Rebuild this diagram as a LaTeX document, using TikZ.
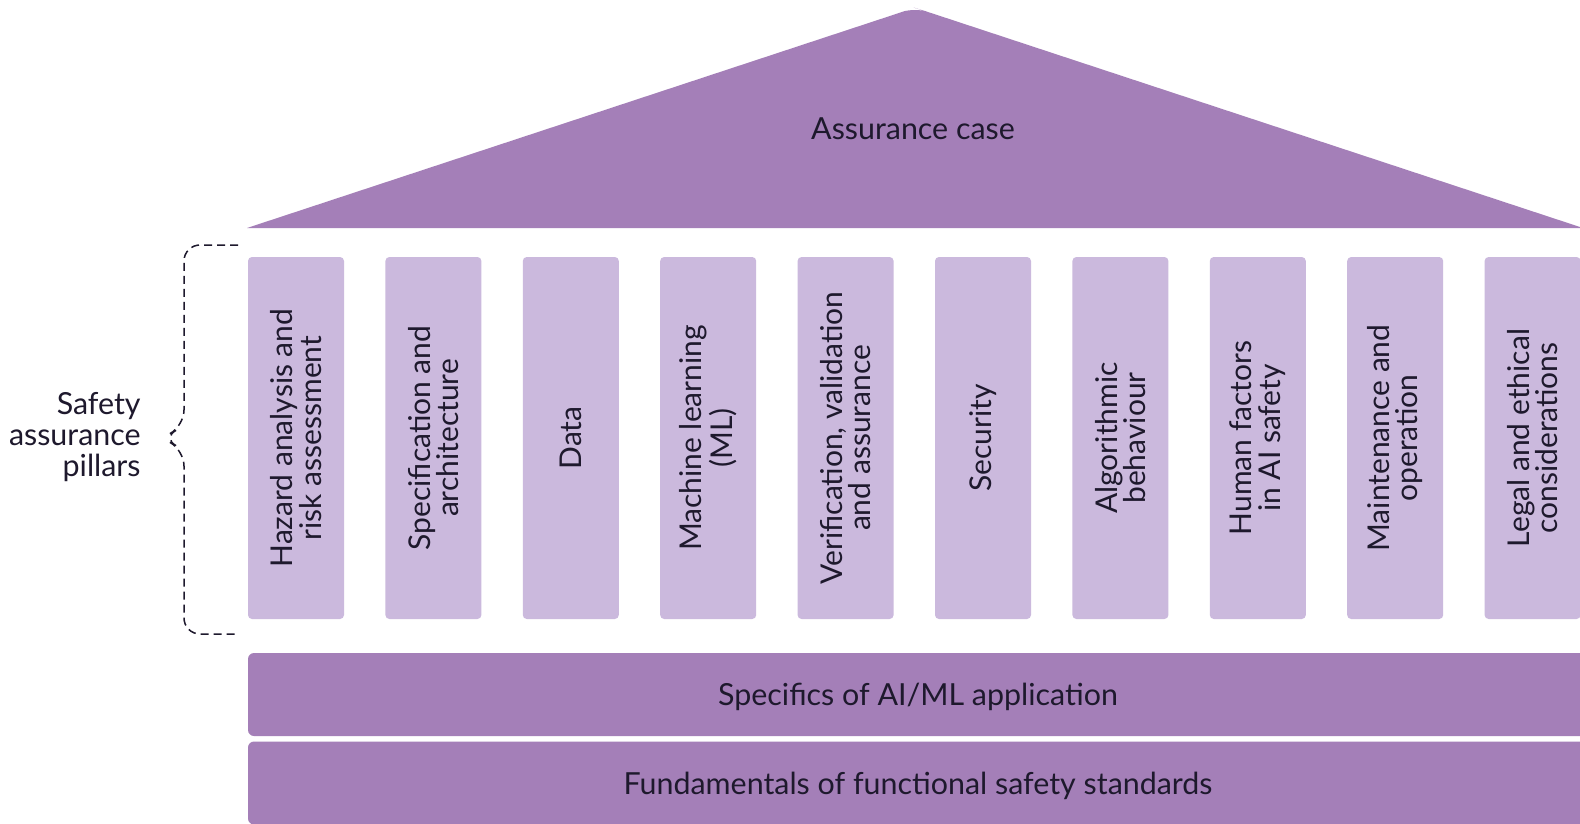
\documentclass[tikz,border=0pt]{standalone}
\usepackage{fontspec}
\setmainfont{Lato}
\usetikzlibrary{positioning}
\definecolor{roofpurple}{RGB}{164,127,184}
\definecolor{pillarpurple}{RGB}{203,185,221}
\definecolor{inkdark}{RGB}{30,25,45}
\begin{document}
\begin{tikzpicture}[x=0.5pt, y=-0.5pt,
    every node/.style={text=inkdark, font=\fontsize{15.2}{15.5}\selectfont},
    pillar/.style={fill=pillarpurple, rounded corners=2pt, rotate=90, align=center,
      minimum width=181pt, minimum height=48pt, inner sep=0pt,
      font=\fontsize{15}{14.2}\selectfont},
    band/.style={fill=roofpurple, rounded corners=3pt, minimum width=670pt, minimum height=41.5pt, text depth=0pt},
    brace/.style={draw=inkdark, line width=0.75pt, dash pattern=on 4pt off 2.5pt, rounded corners=8pt}]
      \useasboundingbox[fill=white] (0,0) rectangle (1580,824);

      \fill[roofpurple] (247,228) -- (905,11) [rounded corners=6pt] -- (915,8) -- (925,11) [sharp corners] -- (1583,228) -- cycle;
      \node (roof) at (913,129) {Assurance case};

      \node[pillar] (p_1) at (296,438) {Hazard analysis and\\risk assessment};
      \node[pillar] (p_2) at (433.4,438) {Specification and\\architecture};
      \node[pillar] (p_3) at (570.8,438) {Data};
      \node[pillar] (p_4) at (708.2,438) {Machine learning\\(ML)};
      \node[pillar] (p_5) at (845.6,438) {Verification, validation\\and assurance};
      \node[pillar] (p_6) at (983,438) {Security};
      \node[pillar] (p_7) at (1120.4,438) {Algorithmic\\behaviour};
      \node[pillar] (p_8) at (1257.8,438) {Human factors\\in AI safety};
      \node[pillar] (p_9) at (1395.2,438) {Maintenance and\\operation};
      \node[pillar] (p_10) at (1532.6,438) {Legal and ethical\\considerations};

      \node[band] (specifics) at (918,694.5) {Specifics of AI/ML application};
      \node[band] (fundamentals) at (918,783) {Fundamentals of functional safety standards};

      \draw[brace] (238,245) -- (184,245) -- (184,426) -- (162,438) -- (184,450) -- (184,634) -- (238,634);
      \node[align=right, anchor=east, inner sep=0pt] (pillars) at (141,437) {Safety\\assurance\\pillars};
    \end{tikzpicture}
\end{document}
